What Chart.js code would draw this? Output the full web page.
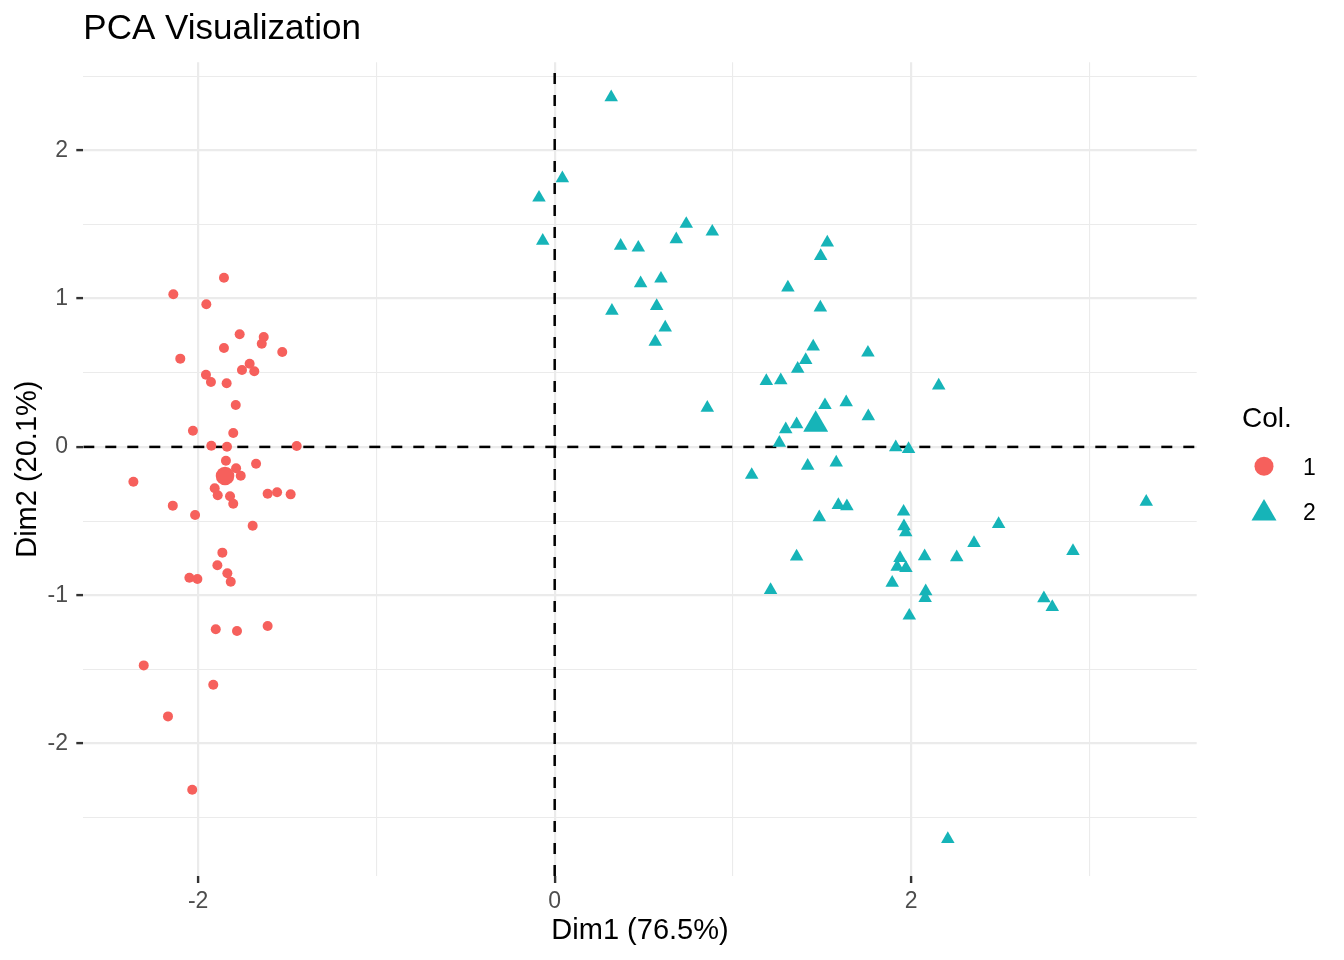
<!DOCTYPE html>
<html>
<head>
<meta charset="utf-8">
<title>PCA Visualization</title>
<script src="https://cdn.jsdelivr.net/npm/chart.js@4.4.0/dist/chart.umd.min.js"></script>
<style>
    html, body { margin: 0; padding: 0; background: #ffffff; }
    #wrap { width: 1344px; height: 960px; }
</style>
</head>
<body>
<div id="wrap"><canvas id="pcaChart"></canvas></div>
<script>
// cluster labels shown in the legend
var clusterNames = ['1', '2'];

// cluster 1 (circles)
var cluster1X = [-1.855, -2.139, -1.954, -1.767, -1.632, -1.643, -1.855, -1.528, -2.100, -1.711,
    -1.754, -1.685, -1.956, -1.928, -1.840, -1.789, -2.029, -1.803, -1.926, -1.838,
    -1.447, -1.844, -1.675, -1.787, -1.761, -2.363, -1.907, -1.890, -1.821, -1.803,
    -1.610, -1.557, -1.481, -2.142, -2.017, -1.694, -1.864, -1.892, -1.836, -1.817,
    -2.049, -2.004, -1.901, -1.782, -1.610, -2.305, -1.915, -2.169, -2.033];
var cluster1Y = [1.141, 1.029, 0.962, 0.759, 0.741, 0.696, 0.667, 0.640, 0.595, 0.561,
    0.519, 0.510, 0.487, 0.438, 0.429, 0.283, 0.109, 0.094, 0.008, 0.001,
    0.006, -0.093, -0.113, -0.144, -0.194, -0.235, -0.279, -0.326, -0.333, -0.383,
    -0.316, -0.306, -0.320, -0.396, -0.459, -0.531, -0.713, -0.798, -0.852, -0.909,
    -0.882, -0.891, -1.230, -1.241, -1.208, -1.473, -1.603, -1.817, -2.312];

// cluster 2 (triangles)
var cluster2X = [0.317, 0.043, -0.088, -0.067, 0.738, 0.884, 0.682, 0.370, 0.469, 0.482,
    0.596, 0.321, 0.572, 0.620, 0.564, 0.856, 1.529, 1.492, 1.308, 1.490,
    1.450, 1.757, 1.408, 1.363, 1.187, 1.268, 2.154, 1.516, 1.635, 1.759,
    1.357, 1.296, 1.260, 1.913, 1.985, 1.419, 1.579, 1.105, 1.591, 1.639,
    1.484, 1.957, 1.959, 1.969, 1.357, 1.937, 1.921, 1.970, 2.075, 2.255,
    2.352, 1.893, 1.211, 2.081, 2.078, 1.989, 3.318, 2.490, 2.907, 2.744,
    2.791, 2.205];
var cluster2Y = [2.357, 1.811, 1.680, 1.390, 1.503, 1.451, 1.400, 1.355, 1.343, 1.103,
    1.134, 0.918, 0.950, 0.804, 0.709, 0.264, 1.377, 1.287, 1.074, 0.939,
    0.676, 0.635, 0.586, 0.527, 0.444, 0.449, 0.413, 0.281, 0.301, 0.206,
    0.152, 0.119, 0.028, -0.003, -0.014, -0.127, -0.105, -0.189, -0.392, -0.401,
    -0.475, -0.437, -0.535, -0.576, -0.740, -0.749, -0.808, -0.817, -0.738, -0.744,
    -0.649, -0.916, -0.965, -0.974, -1.019, -1.138, -0.370, -0.520, -0.702, -1.021,
    -1.080, -2.644];

// cluster centres
var centerX = [-1.849, 1.464];
var centerY = [-0.196, 0.150];

// axis breaks
var xMajorTicks = [-2, 0, 2];
var xMinorTicks = [-1, 1, 3];
var yMajorTicks = [-2, -1, 0, 1, 2];
var yMinorTicks = [-2.5, -1.5, -0.5, 0.5, 1.5, 2.5];
var xLimits = [-2.644, 3.601];
var yLimits = [-2.893, 2.593];

var RED = '#F6605C';
var TEAL = '#16B4B8';
var FONT = '"Liberation Sans", Arial, Helvetica, sans-serif';

function toPoints(xs, ys) {
    return xs.map(function (x, i) { return { x: x, y: ys[i] }; });
}

function gridFor(major) {
    return {
        color: '#EBEBEB',
        lineWidth: function (c) { return major.indexOf(c.tick.value) >= 0 ? 2.2 : 1.1; },
        tickColor: function (c) { return major.indexOf(c.tick.value) >= 0 ? '#333333' : 'rgba(0,0,0,0)'; },
        tickLength: 7,
        tickWidth: 2.4
    };
}

// legend drawn by hand to match ggplot placement
var legendPlugin = {
    id: 'clusterLegend',
    afterDraw: function (chart) {
        var ctx = chart.ctx;
        ctx.save();
        ctx.fillStyle = '#000000';
        ctx.textAlign = 'left';
        ctx.textBaseline = 'alphabetic';
        ctx.font = '28px ' + FONT;
        ctx.fillText('Col.', 1242, 427);

        ctx.fillStyle = RED;
        ctx.beginPath();
        ctx.arc(1264, 466.3, 9.5, 0, Math.PI * 2);
        ctx.fill();

        var r = 14.4, cx = 1264, cy = 513.3;
        ctx.fillStyle = TEAL;
        ctx.beginPath();
        ctx.moveTo(cx, cy - r);
        ctx.lineTo(cx + r * Math.sin(Math.PI * 2 / 3), cy + r / 2);
        ctx.lineTo(cx - r * Math.sin(Math.PI * 2 / 3), cy + r / 2);
        ctx.closePath();
        ctx.fill();

        ctx.fillStyle = '#000000';
        ctx.textBaseline = 'middle';
        ctx.font = '23px ' + FONT;
        ctx.fillText(clusterNames[0], 1303, 468.7);
        ctx.fillText(clusterNames[1], 1303, 513.5);
        ctx.restore();
    }
};

var ctx = document.getElementById('pcaChart').getContext('2d');
var chart = new Chart(ctx, {
    type: 'scatter',
    data: {
        datasets: [{
            label: clusterNames[0] + ' centre',
            data: toPoints([centerX[0]], [centerY[0]]),
            pointStyle: 'circle',
            pointRadius: 9.3,
            backgroundColor: RED,
            borderWidth: 0,
            order: 1
        }, {
            label: clusterNames[1] + ' centre',
            data: toPoints([centerX[1]], [centerY[1]]),
            pointStyle: 'triangle',
            pointRadius: 14.4,
            backgroundColor: TEAL,
            borderWidth: 0,
            order: 1
        }, {
            label: clusterNames[0],
            data: toPoints(cluster1X, cluster1Y),
            pointStyle: 'circle',
            pointRadius: 5,
            backgroundColor: RED,
            borderWidth: 0,
            order: 2
        }, {
            label: clusterNames[1],
            data: toPoints(cluster2X, cluster2Y),
            pointStyle: 'triangle',
            pointRadius: 7.8,
            backgroundColor: TEAL,
            borderWidth: 0,
            order: 2
        }, {
            label: 'x = 0',
            data: [{ x: 0, y: yLimits[0] }, { x: 0, y: yLimits[1] }],
            showLine: true,
            borderColor: '#000000',
            borderWidth: 2.5,
            borderDash: [11, 11],
            pointRadius: 0,
            order: 5
        }, {
            label: 'y = 0',
            data: [{ x: xLimits[0], y: 0 }, { x: xLimits[1], y: 0 }],
            showLine: true,
            borderColor: '#000000',
            borderWidth: 2.5,
            borderDash: [11, 11],
            pointRadius: 0,
            order: 5
        }]
    },
    options: {
        responsive: true,
        maintainAspectRatio: false,
        animation: false,
        layout: { padding: { left: 0, right: 147.3, top: 0, bottom: 0 } },
        plugins: {
            legend: { display: false },
            tooltip: { enabled: false },
            title: {
                display: true,
                text: 'PCA Visualization',
                align: 'start',
                fullSize: false,
                color: '#000000',
                font: { family: FONT, size: 35, weight: 'normal', lineHeight: 1.2 },
                padding: { top: 8, bottom: 12.3 }
            }
        },
        scales: {
            x: {
                type: 'linear',
                min: xLimits[0],
                max: xLimits[1],
                afterBuildTicks: function (axis) {
                    axis.ticks = xMajorTicks.concat(xMinorTicks).sort(function (a, b) { return a - b; })
                        .map(function (v) { return { value: v }; });
                },
                afterFit: function (axis) { axis.height = 84; },
                grid: gridFor(xMajorTicks),
                border: { display: false },
                ticks: {
                    color: '#4D4D4D',
                    padding: 5,
                    maxRotation: 0,
                    font: { family: FONT, size: 23 },
                    callback: function (v) { return xMajorTicks.indexOf(v) >= 0 ? String(v) : ''; }
                },
                title: {
                    display: true,
                    text: 'Dim1 (76.5%)',
                    color: '#000000',
                    font: { family: FONT, size: 29, lineHeight: 1.2 },
                    padding: { top: 0, bottom: 11.6 }
                }
            },
            y: {
                type: 'linear',
                min: yLimits[0],
                max: yLimits[1],
                afterBuildTicks: function (axis) {
                    axis.ticks = yMajorTicks.concat(yMinorTicks).sort(function (a, b) { return a - b; })
                        .map(function (v) { return { value: v }; });
                },
                afterFit: function (axis) { axis.width = 83.3; },
                grid: gridFor(yMajorTicks),
                border: { display: false },
                ticks: {
                    color: '#4D4D4D',
                    padding: 8.3,
                    font: { family: FONT, size: 23 },
                    callback: function (v) { return yMajorTicks.indexOf(v) >= 0 ? String(v) : ''; }
                },
                title: {
                    display: true,
                    text: 'Dim2 (20.1%)',
                    color: '#000000',
                    font: { family: FONT, size: 29, lineHeight: 1.2 },
                    padding: { top: 10.6, bottom: 0 }
                }
            }
        }
    },
    plugins: [legendPlugin]
});
</script>
</body>
</html>
